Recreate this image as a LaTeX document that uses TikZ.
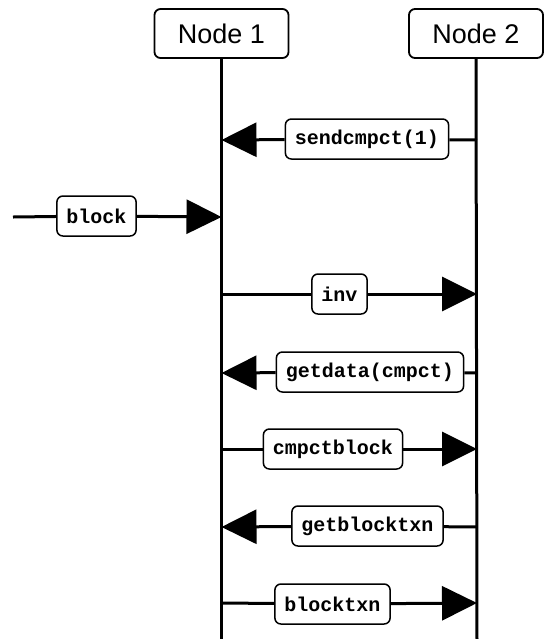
\documentclass[tikz,border=0pt]{standalone}
\usepackage{fontspec}
\setmainfont{Liberation Sans}
\setmonofont{Liberation Mono}
\usetikzlibrary{arrows.meta}

\tikzset{
  px/.style={x=0.5pt,y=-0.5pt},
  head/.style={draw,line width=0.9pt,rounded corners=3pt,minimum width=67pt,
    minimum height=24.5pt,inner sep=0pt,font=\fontsize{13.5}{14}\selectfont,fill=white},
  life/.style={line width=1.5pt},
  msgbox/.style={draw,line width=0.75pt,rounded corners=3pt,fill=white,
    minimum height=20pt,inner xsep=4.8pt,inner ysep=0pt,
    font=\ttfamily\bfseries\fontsize{10}{12}\selectfont},
  msg/.style={line width=1.5pt},
  msgarrow/.style={msg,-{Triangle[length=17.5pt,width=17pt]}}
}

\begin{document}
\begin{tikzpicture}[px]
\useasboundingbox (0,0) rectangle (550,639);

% participants and lifelines
\node[head] (n1) at (221.5,33.5) {Node 1};
\node[head] (n2) at (476,33.5) {Node 2};
\coordinate (n1b) at (221.5,639);
\coordinate (n2b) at (477,639);
\draw[life] (n1) -- (n1b);
\draw[life] (n2.south) -- (n2b);

% message end points on the lifelines
\foreach \i/\y in {1/140,3/294,4/373,5/449,6/527,7/603}{
  \coordinate (l\i) at (221.5,\y);
  \coordinate (r\i) at (477,\y);
}
\coordinate (l2) at (221.5,217);
\coordinate (src) at (13,217);

% message labels
\node[msgbox] (m1) at (367,139) {sendcmpct(1)};
\node[msgbox] (m2) at (96.5,216) {block};
\node[msgbox] (m3) at (339.5,294) {inv};
\node[msgbox] (m4) at (370,372) {getdata(cmpct)};
\node[msgbox] (m5) at (333,449) {cmpctblock};
\node[msgbox] (m6) at (367.5,526) {getblocktxn};
\node[msgbox] (m7) at (332.5,604) {blocktxn};

% messages
\draw[msg] (r1) -- (m1);  \draw[msgarrow] (m1) -- (l1);
\draw[msg] (src) -- (m2); \draw[msgarrow] (m2) -- (l2);
\draw[msg] (l3) -- (m3);  \draw[msgarrow] (m3) -- (r3);
\draw[msg] (r4) -- (m4);  \draw[msgarrow] (m4) -- (l4);
\draw[msg] (l5) -- (m5);  \draw[msgarrow] (m5) -- (r5);
\draw[msg] (r6) -- (m6);  \draw[msgarrow] (m6) -- (l6);
\draw[msg] (l7) -- (m7);  \draw[msgarrow] (m7) -- (r7);
\end{tikzpicture}
\end{document}
